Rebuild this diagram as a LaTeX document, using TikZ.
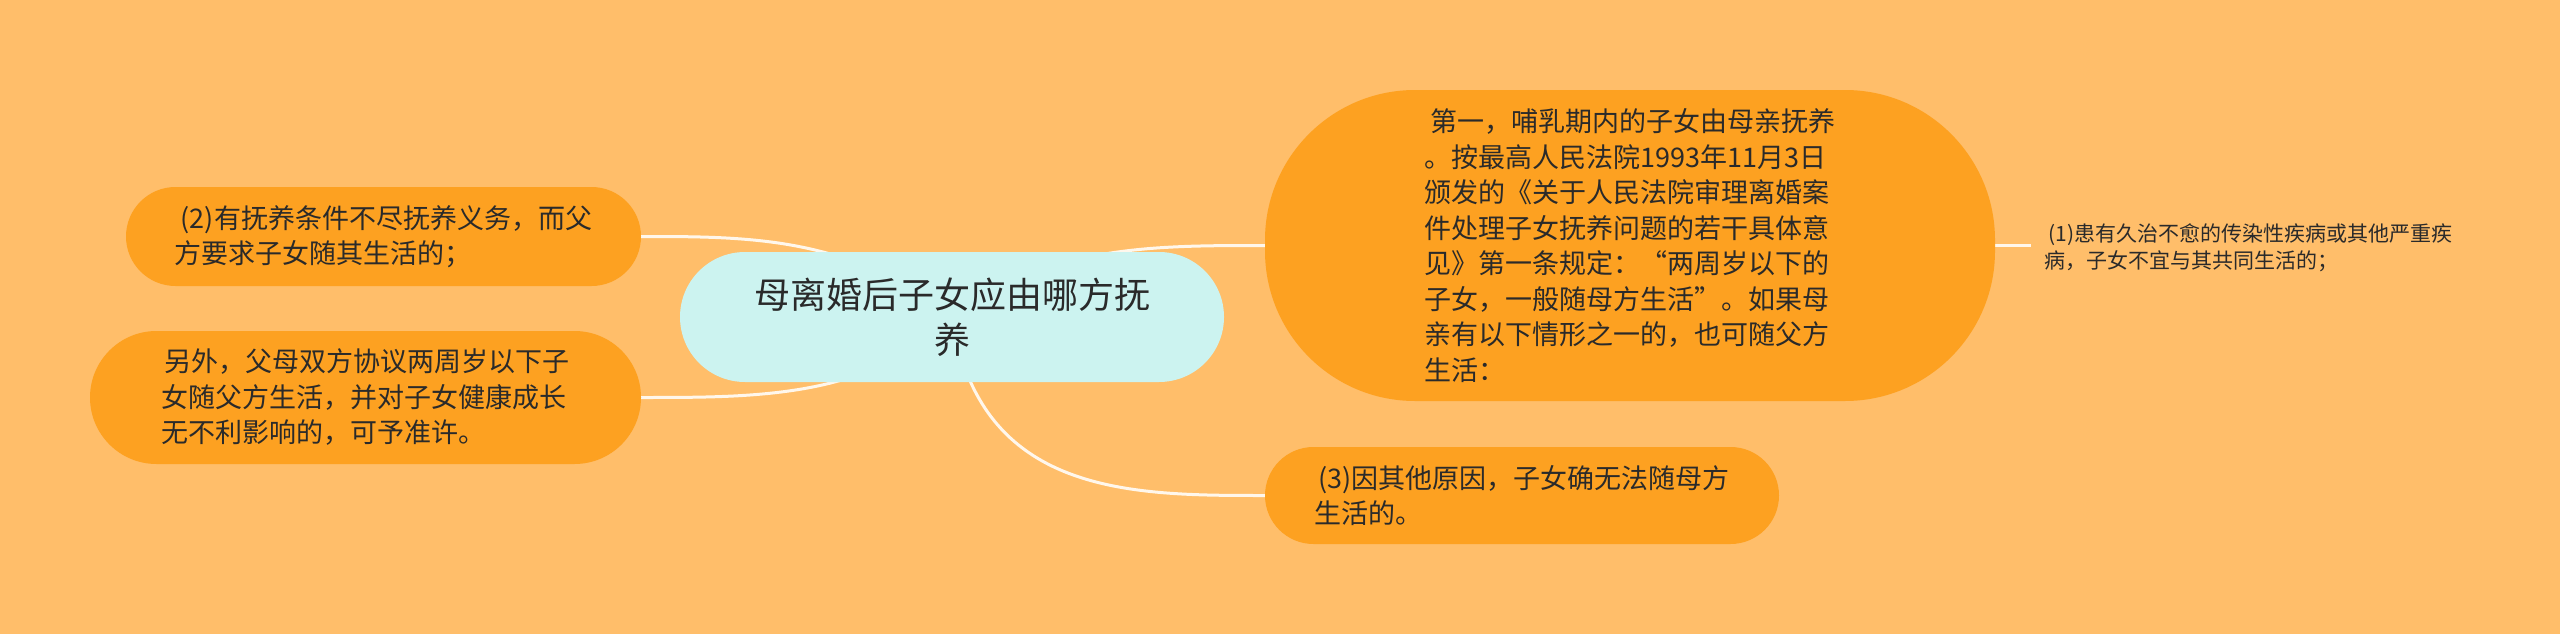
\documentclass[tikz,border=0pt]{standalone}
\usepackage{fontspec}
\setmainfont{Noto Sans CJK SC}
\definecolor{bgc}{HTML}{FFBE6A}
\definecolor{boxc}{HTML}{FDA121}
\definecolor{rootc}{HTML}{CCF3F0}
\definecolor{txt}{HTML}{2A2A2A}
\definecolor{linkc}{HTML}{FFF7EC}
\pgfdeclarelayer{bg}
\pgfdeclarelayer{edges}
\pgfsetlayers{bg,edges,main}
\begin{document}
\begin{tikzpicture}[x=1pt,y=-1pt,
  box/.style={fill=boxc, text=txt, inner sep=0pt, align=left,
    font=\fontsize{27}{35.5}\selectfont},
  link/.style={draw=linkc, line width=3pt}]
\begin{pgfonlayer}{bg}
  \fill[bgc] (0,0) rectangle (2560,634);
\end{pgfonlayer}
\useasboundingbox (0,0) rectangle (2560,634);

\node[box, fill=rootc, minimum width=544pt, minimum height=130pt,
  rounded corners=65pt, align=center, font=\fontsize{36}{45}\selectfont]
  (root) at (952,317) {母离婚后子女应由哪方抚\\养};

\node[box, minimum width=515pt, minimum height=99pt, rounded corners=49.5pt]
  (n2) at (383.5,236.5) {\hspace*{0.22em}(2)有抚养条件不尽抚养义务，而父\\方要求子女随其生活的；};

\node[box, minimum width=551pt, minimum height=133pt, rounded corners=66.5pt]
  (nother) at (365.5,397.5) {\hspace*{0.1em}另外，父母双方协议两周岁以下子\\女随父方生活，并对子女健康成长\\无不利影响的，可予准许。};

\node[box, minimum width=730pt, minimum height=311pt, rounded corners=150pt]
  (n1a) at (1630,245.5) {\hspace*{0.25em}第一，哺乳期内的子女由母亲抚养\\。按最高人民法院1993年11月3日\\颁发的《关于人民法院审理离婚案\\件处理子女抚养问题的若干具体意\\见》第一条规定：“两周岁以下的\\子女，一般随母方生活”。如果母\\亲有以下情形之一的，也可随父方\\生活：};

\node[box, minimum width=514pt, minimum height=97pt, rounded corners=48.5pt]
  (n3) at (1522,495.5) {\hspace*{0.12em}(3)因其他原因，子女确无法随母方\\生活的。};

\node[anchor=west, inner xsep=13pt, inner ysep=0pt, text=txt, align=left,
  font=\fontsize{21}{27}\selectfont]
  (n1) at (2031,248) {\hspace*{0.2em}(1)患有久治不愈的传染性疾病或其他严重疾\\病，子女不宜与其共同生活的；};

\begin{pgfonlayer}{edges}
  \draw[link] (root.center) .. controls (850,236.5) and (750,236.5) .. (n2.east);
  \draw[link] (root.center) .. controls (870,397.5) and (760,397.5) .. (nother.east);
  \draw[link] (root.center) .. controls (1050,245.5) and (1150,245.5) .. (n1a.west);
  \draw[link] (root.center) .. controls (980,495.5) and (1130,495.5) .. (n3.west);
  \draw[link] (n1a.east) -- (n1a.east -| n1.west);
\end{pgfonlayer}
\end{tikzpicture}
\end{document}
